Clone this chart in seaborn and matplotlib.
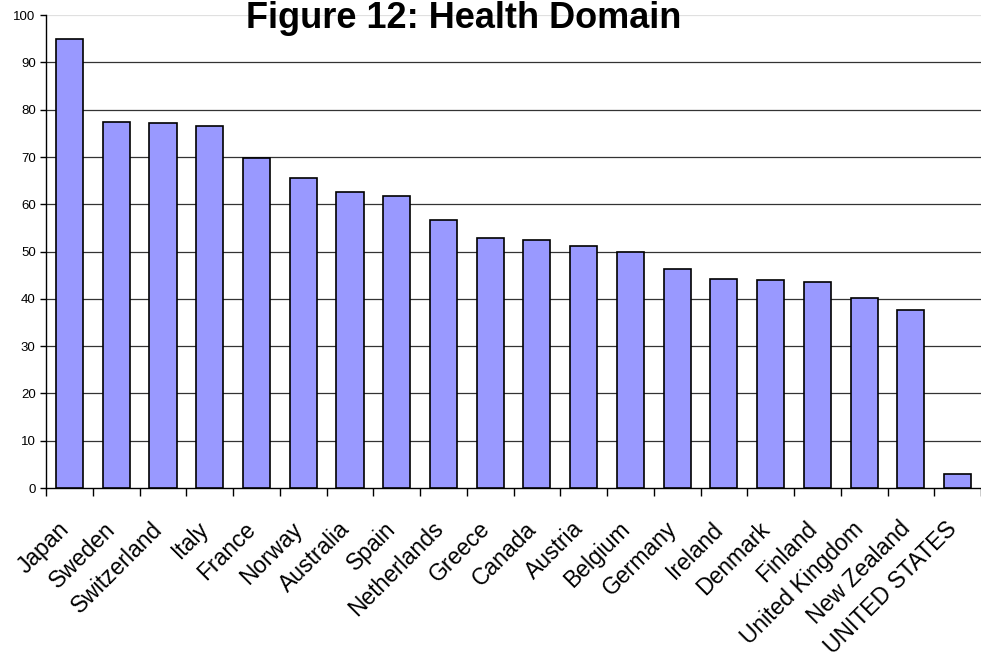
import matplotlib
matplotlib.use("Agg")
import matplotlib.pyplot as plt
import matplotlib.transforms as mtransforms
import seaborn as sns
import pandas as pd
import numpy as np

# ==================== DATA ====================

countries = ["Japan", "Sweden", "Switzerland", "Italy", "France", "Norway",
             "Australia", "Spain", "Netherlands", "Greece", "Canada", "Austria",
             "Belgium", "Germany", "Ireland", "Denmark", "Finland",
             "United Kingdom", "New Zealand", "UNITED STATES"]
scores = [95.0, 77.4, 77.2, 76.5, 69.7, 65.5, 62.7, 61.7, 56.6, 52.8,
          52.5, 51.2, 49.9, 46.4, 44.2, 44.0, 43.6, 40.1, 37.6, 3.0]

df = pd.DataFrame({"Country": countries, "Score": scores})

# ==================== PLOT ====================

sns.set_style("white")
plt.rcParams['font.family'] = ['Liberation Sans', 'DejaVu Sans']
plt.rcParams['text.color'] = 'black'

fig = plt.figure(figsize=(9.81, 6.6), dpi=100)
ax = fig.add_axes([0.047, 0.2606, 0.953, 0.7164])

sns.barplot(data=df, x="Country", y="Score", color="#9999FF",
            edgecolor="black", linewidth=1.2, width=0.58,
            saturation=1, ax=ax, zorder=3)

ax.set_ylim(0, 100)
ax.set_xlim(-0.5, len(countries) - 0.5)
ax.set_yticks(np.arange(0, 101, 10))
ax.tick_params(axis='y', labelsize=9.5, length=4, direction='out',
               left=True, width=1, color='black', labelcolor='black')

# horizontal gridlines (top one lighter, like a frame)
for v in range(10, 100, 10):
    ax.axhline(v, color='#333333', linewidth=0.9, zorder=1)
ax.axhline(100, color='#e0e0e0', linewidth=0.9, zorder=1)

# category labels, rotated, ending just left of bar centre
ax.set_xticks(np.arange(len(countries)))
ax.set_xticklabels(countries, rotation=45, ha='right', va='center',
                   rotation_mode='anchor', fontsize=16.5)
ax.tick_params(axis='x', length=0, pad=27, labelcolor='black')
shift = mtransforms.ScaledTranslation(-0.04, 0, fig.dpi_scale_trans)
for lbl in ax.get_xticklabels():
    lbl.set_transform(lbl.get_transform() + shift)

# x ticks sit between categories
ax.set_xticks(np.arange(-0.5, len(countries), 1), minor=True)
ax.tick_params(axis='x', which='minor', length=6, direction='out',
               bottom=True, width=1, color='black')

for side in ['top', 'right']:
    ax.spines[side].set_visible(False)
ax.spines['left'].set_color('black')
ax.spines['bottom'].set_color('black')
ax.spines['left'].set_linewidth(1)
ax.spines['bottom'].set_linewidth(1)

ax.set_xlabel("")
ax.set_ylabel("")

fig.text(0.473, 0.999, "Figure 12: Health Domain", ha='center', va='top',
         fontsize=26, fontweight='bold', color='black')

fig.savefig("out.png", dpi=100)
